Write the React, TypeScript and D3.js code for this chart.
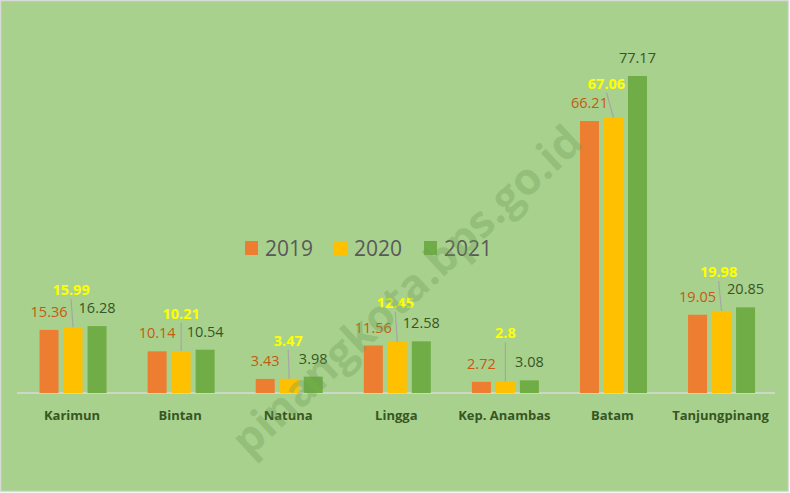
import React from "react";
import * as d3 from "d3";

const categories = ["Karimun", "Bintan", "Natuna", "Lingga", "Kep. Anambas", "Batam", "Tanjungpinang"];
const seriesNames = ["2019", "2020", "2021"];
const values2019 = [15.36, 10.14, 3.43, 11.56, 2.72, 66.21, 19.05];
const values2020 = [15.99, 10.21, 3.47, 12.45, 2.8, 67.06, 19.98];
const values2021 = [16.28, 10.54, 3.98, 12.58, 3.08, 77.17, 20.85];
const labels2019 = ["15.36", "10.14", "3.43", "11.56", "2.72", "66.21", "19.05"];
const labels2020 = ["15.99", "10.21", "3.47", "12.45", "2.8", "67.06", "19.98"];
const labels2021 = ["16.28", "10.54", "3.98", "12.58", "3.08", "77.17", "20.85"];

// layout: lift of the 2020 (leader-line) labels above their bars, and horizontal nudge
const lift2020 = [32, 32, 33, 34, 43, 29, 34];
const nudge2020 = [-2, 0, -1, -2, 0, -7, -3];

const W = 790;
const H = 493;
const BASE = 393;
const colors = ["#ED7D31", "#FFC000", "#70AD47"];
const labelColors = ["#C55A11", "#FFFF00", "#375623"];
const BG = "#A9D18E";
const FONT = "'Open Sans', 'Noto Sans', sans-serif";

export default function App() {
  const x = d3.scaleBand<string>().domain(categories).range([19, 775.6]).paddingInner(0).paddingOuter(0);
  const x1 = d3.scaleBand<string>().domain(seriesNames).range([-36, 36]).paddingInner(5 / 24).paddingOuter(2.5 / 24);
  const y = d3.scaleLinear().domain([0, 80]).range([BASE, BASE - 80 * 4.108]);
  const all = [values2019, values2020, values2021];
  const labs = [labels2019, labels2020, labels2021];
  const bw = x1.bandwidth();

  return (
    <svg width={W} height={H} style={{ position: "absolute", left: 0, top: 0 }}>
      <rect x={0.5} y={0.5} width={W - 2} height={H - 2} fill={BG} stroke="#D9D9D9" strokeWidth={1.5} />
      <line x1={17} x2={775} y1={BASE} y2={BASE} stroke="#D9D9D9" strokeWidth={1.5} />
      {categories.map((c, i) => {
        const cx = (x(c) as number) + x.bandwidth() / 2;
        return (
          <g key={c}>
            {all.map((vals, s) => {
              const bx = cx + (x1(seriesNames[s]) as number);
              return (
                <rect key={s} x={bx} y={y(vals[i])} width={bw} height={BASE - y(vals[i])} fill={colors[s]} />
              );
            })}
            {[0, 2].map((s) => {
              const bc = cx + (x1(seriesNames[s]) as number) + bw / 2;
              return (
                <text key={s} x={bc} y={y(all[s][i]) - 13} textAnchor="middle" fontFamily={FONT} fontSize={14.5} fill={labelColors[s]}>
                  {labs[s][i]}
                </text>
              );
            })}
            {(() => {
              const bc = cx + (x1(seriesNames[1]) as number) + bw / 2;
              const top = y(all[1][i]);
              const ly = top - lift2020[i];
              const lx = bc + nudge2020[i];
              return (
                <g>
                  <line x1={lx} y1={ly + 4} x2={bc} y2={top} stroke="#A6A6A6" strokeWidth={1.2} />
                  <text x={lx} y={ly} textAnchor="middle" fontFamily={FONT} fontSize={14.5} fontWeight="bold" fill={labelColors[1]}>
                    {labs[1][i]}
                  </text>
                </g>
              );
            })()}
            <text x={cx - 1} y={420} textAnchor="middle" fontFamily={FONT} fontSize={13} fontWeight="bold" fill="#375623">
              {c}
            </text>
          </g>
        );
      })}
      {seriesNames.map((s, i) => {
        const lx = [245, 334, 424][i];
        return (
          <g key={s}>
            <rect x={lx} y={241} width={13} height={14} fill={colors[i]} />
            <text x={lx + 20} y={256} fontFamily={FONT} fontSize={21} fill="#595959">
              {s}
            </text>
          </g>
        );
      })}
      <text
        x={585}
        y={145}
        textAnchor="end"
        transform="rotate(-43 585 145)"
        fontFamily={FONT}
        fontSize={44}
        fontWeight="bold"
        fill="#6E9E55"
        fillOpacity={0.35}
      >
        pinangkota.bps.go.id
      </text>
    </svg>
  );
}
